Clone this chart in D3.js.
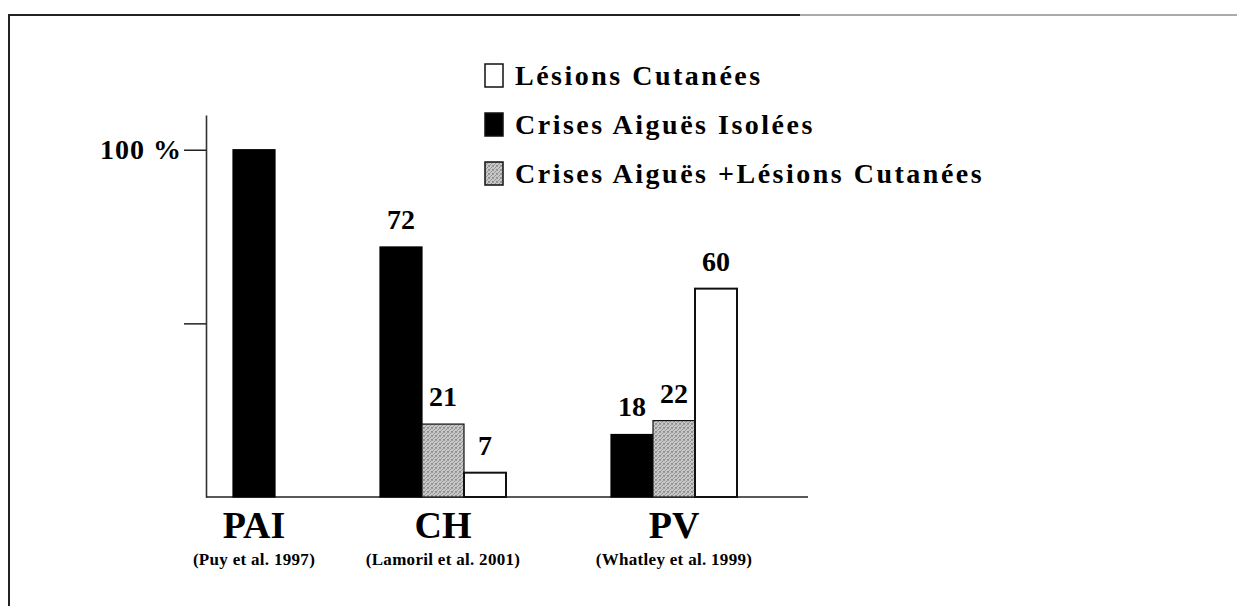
<!DOCTYPE html>
<html><head><meta charset="utf-8">
<script src="https://cdn.jsdelivr.net/npm/d3@7"></script>
<style>body{margin:0;background:#fff}svg{display:block}</style>
</head><body>
<script>
// ---- data ----
const categories = ["PAI", "CH", "PV"];
const references = ["(Puy et al. 1997)", "(Lamoril et al. 2001)", "(Whatley et al. 1999)"];
const seriesKeys = ["isolees", "combinees", "cutanees"];
const seriesNames = ["Crises Aiguës Isolées", "Crises Aiguës +Lésions Cutanées", "Lésions Cutanées"];
const isolees = [100, 72, 18];
const combinees = [null, 21, 22];
const cutanees = [null, 7, 60];
const legendOrder = ["Lésions Cutanées", "Crises Aiguës Isolées", "Crises Aiguës +Lésions Cutanées"];
const yTicks = [50, 100];
const yTickLabels = ["", "100 %"];
const showValueLabels = [false, true, true];

// ---- setup ----
const W = 1237, H = 606;
const svg = d3.select("body").append("svg").attr("width", W).attr("height", H);
const serif = "'Liberation Serif','Times New Roman',serif";

const defs = svg.append("defs");
const pat = defs.append("pattern").attr("id", "stip").attr("width", 4).attr("height", 4)
  .attr("patternUnits", "userSpaceOnUse");
pat.append("rect").attr("width", 4).attr("height", 4).attr("fill", "#c8c8c8");
[[0,0],[2,1],[1,2],[3,3],[3,0],[0,3]].forEach(([px, py], i) =>
  pat.append("rect").attr("x", px).attr("y", py).attr("width", 1).attr("height", 1)
    .attr("fill", i % 2 ? "#8e8e8e" : "#9a9a9a"));

const fills = { isolees: "#000", combinees: "url(#stip)", cutanees: "#fff" };
const seriesData = { isolees, combinees, cutanees };

// frame
svg.append("line").attr("x1", 9).attr("x2", 800).attr("y1", 15).attr("y2", 15).attr("stroke", "#222").attr("stroke-width", 2);
svg.append("line").attr("x1", 800).attr("x2", W).attr("y1", 15).attr("y2", 15).attr("stroke", "#aaa").attr("stroke-width", 2);
svg.append("line").attr("x1", 9).attr("x2", 9).attr("y1", 14).attr("y2", H).attr("stroke", "#222").attr("stroke-width", 2);

// bars layout: contiguous bars per group, gap between groups
const gapUnits = 2.5;
const bars = [];
const groups = [];
let u = 0;
categories.forEach((c, i) => {
  const start = u;
  seriesKeys.forEach(k => {
    const v = seriesData[k][i];
    if (v != null) { bars.push({ cat: c, ci: i, key: k, value: v, u0: u }); u += 1; }
  });
  groups.push({ cat: c, ref: references[i], u0: start, u1: u });
  u += gapUnits;
});
const totalUnits = u - gapUnits;

const x = d3.scaleLinear().domain([0, totalUnits]).range([233, 737]);
const y = d3.scaleLinear().domain([0, 110]).range([497, 115]);

// y axis
const yAxis = d3.axisLeft(y).tickValues(yTicks).tickSize(22).tickSizeOuter(0).tickPadding(2)
  .tickFormat((d, i) => yTickLabels[i]);
const ya = svg.append("g").attr("transform", "translate(206,0)").call(yAxis);
ya.select(".domain").attr("stroke", "#333").attr("stroke-width", 1.6);
ya.selectAll(".tick line").attr("stroke", "#222").attr("stroke-width", 1.5);
ya.selectAll(".tick text").attr("font-family", serif).attr("font-size", 28).attr("font-weight", "bold")
  .attr("letter-spacing", 1).attr("fill", "#000");

// baseline
svg.append("line").attr("x1", 206).attr("x2", 808).attr("y1", y(0)).attr("y2", y(0))
  .attr("stroke", "#222").attr("stroke-width", 1.6);

// bars
svg.append("g").selectAll("rect").data(bars).join("rect")
  .attr("x", d => x(d.u0))
  .attr("width", d => x(d.u0 + 1) - x(d.u0))
  .attr("y", d => y(d.value))
  .attr("height", d => y(0) - y(d.value))
  .attr("fill", d => fills[d.key])
  .attr("stroke", d => d.key === "isolees" ? "#000" : "#111")
  .attr("stroke-width", d => d.key === "cutanees" ? 2 : 1.2);

// value labels
svg.append("g").selectAll("text").data(bars.filter(d => showValueLabels[d.ci])).join("text")
  .attr("x", d => x(d.u0 + 0.5))
  .attr("y", d => y(d.value) - 18)
  .attr("text-anchor", "middle")
  .attr("font-family", serif).attr("font-size", 28).attr("font-weight", "bold")
  .text(d => d.value);

// category labels
const gl = svg.append("g").selectAll("g").data(groups).join("g")
  .attr("transform", d => `translate(${x((d.u0 + d.u1) / 2)},0)`);
gl.append("text").attr("y", 538).attr("text-anchor", "middle")
  .attr("font-family", serif).attr("font-size", 38).attr("font-weight", "bold")
  .text(d => d.cat);
gl.append("text").attr("y", 565).attr("text-anchor", "middle")
  .attr("font-family", serif).attr("font-size", 17).attr("font-weight", "bold").attr("letter-spacing", 0.3)
  .text(d => d.ref);

// legend
const legendFill = { "Lésions Cutanées": "#fff", "Crises Aiguës Isolées": "#000", "Crises Aiguës +Lésions Cutanées": "url(#stip)" };
const lg = svg.append("g").selectAll("g").data(legendOrder).join("g")
  .attr("transform", (d, i) => `translate(485,${64 + i * 49})`);
lg.append("rect").attr("width", 18).attr("height", 23)
  .attr("fill", d => legendFill[d]).attr("stroke", "#111").attr("stroke-width", 1.5);
lg.append("text").attr("x", 30).attr("y", 21)
  .attr("font-family", serif).attr("font-size", 28).attr("font-weight", "bold").attr("letter-spacing", 2.5)
  .text(d => d);
</script>
</body></html>
